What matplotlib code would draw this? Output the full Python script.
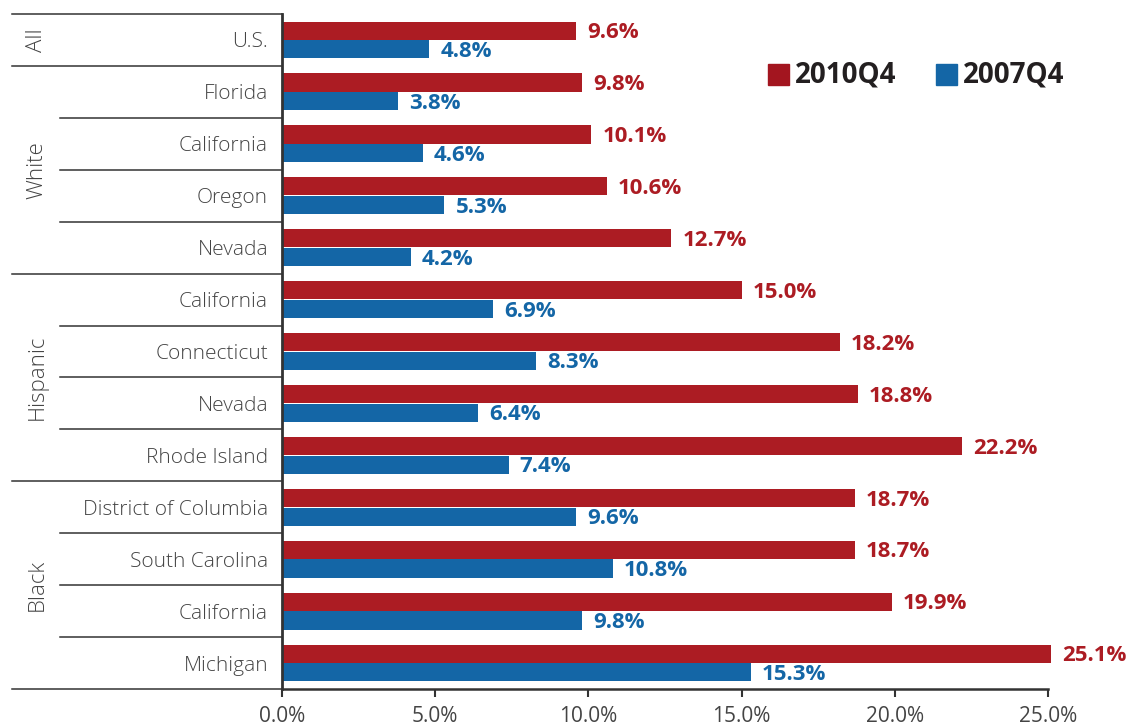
import matplotlib
matplotlib.use("Agg")
import matplotlib.pyplot as plt
from matplotlib.patches import Rectangle
from matplotlib.ticker import FuncFormatter

categories = ['U.S.', 'Florida', 'California', 'Oregon', 'Nevada',
              'California', 'Connecticut', 'Nevada', 'Rhode Island',
              'District of Columbia', 'South Carolina', 'California', 'Michigan']
groups = ['All', 'White', 'Hispanic', 'Black']
group_sizes = [1, 4, 4, 4]
values_2010 = [9.6, 9.8, 10.1, 10.6, 12.7, 15.0, 18.2, 18.8, 22.2, 18.7, 18.7, 19.9, 25.1]
values_2007 = [4.8, 3.8, 4.6, 5.3, 4.2, 6.9, 8.3, 6.4, 7.4, 9.6, 10.8, 9.8, 15.3]
series_names = ['2010Q4', '2007Q4']
xticks = [0, 5, 10, 15, 20, 25]

RED = '#AC1C23'
BLUE = '#1466A6'
DARK = '#333333'
FONT = ['Open Sans', 'DejaVu Sans']

plt.rcParams['font.family'] = FONT

W, H = 1131, 726
fig = plt.figure(figsize=(W / 100, H / 100), dpi=100)
x0, x1, ytop, ybot = 282, 1048, 14, 689
ax = fig.add_axes([x0 / W, 1 - ybot / H, (x1 - x0) / W, (ybot - ytop) / H])

n = len(categories)
pos = list(range(n))
bh = 0.35
off = 0.18
ax.barh([p - off for p in pos], values_2010, height=bh, color=RED, clip_on=False)
ax.barh([p + off for p in pos], values_2007, height=bh, color=BLUE, clip_on=False)

for p, v in zip(pos, values_2010):
    ax.annotate(f'{v:.1f}%', (v, p - off), xytext=(8, -1.5), textcoords='offset points',
                ha='left', va='center', color=RED, fontsize=16, fontweight='bold',
                annotation_clip=False)
for p, v in zip(pos, values_2007):
    ax.annotate(f'{v:.1f}%', (v, p + off), xytext=(8, -1.5), textcoords='offset points',
                ha='left', va='center', color=BLUE, fontsize=16, fontweight='bold',
                annotation_clip=False)

ax.set_xlim(0, 25)
ax.set_ylim(n - 0.5, -0.5)
ax.set_xticks(xticks)
ax.xaxis.set_major_formatter(FuncFormatter(lambda v, _: f'{v:.1f}%'))
ax.tick_params(axis='x', direction='out', length=6, width=1.5, color=DARK,
               labelsize=15, labelcolor='#444444', pad=6)
ax.set_yticks(pos)
ax.set_yticklabels(categories, fontsize=15, color='#444444', fontweight='light',
                   va='center_baseline')
ax.tick_params(axis='y', length=0, pad=10)

for s in ['top', 'right']:
    ax.spines[s].set_visible(False)
ax.spines['left'].set_linewidth(2)
ax.spines['left'].set_color(DARK)
ax.spines['bottom'].set_linewidth(1.8)
ax.spines['bottom'].set_color(DARK)

# separator lines
trans = ax.get_yaxis_transform()
xa_far = (12 - x0) / (x1 - x0)
xa_near = (60 - x0) / (x1 - x0)
start = 0
for g, size in zip(groups, group_sizes):
    end = start + size
    for k in range(start + 1, end):
        ax.plot([xa_near, 0], [k - 0.5, k - 0.5], transform=trans, color=DARK,
                lw=1.1, clip_on=False)
    ax.plot([xa_far, 0], [end - 0.5, end - 0.5], transform=trans, color=DARK,
            lw=1.1, clip_on=False)
    center = (start + end - 1) / 2
    ax.text((37 - x0) / (x1 - x0), center, g, transform=trans, rotation=90,
            ha='center', va='center', fontsize=16, color='#444444', fontweight='light')
    start = end
ax.plot([xa_far, 0], [-0.5, -0.5], transform=trans, color=DARK, lw=1.1, clip_on=False)

# legend
def add_leg(px, color, label):
    fig.patches.append(Rectangle((px / W, 1 - 85 / H), 21 / W, 21 / H,
                                 transform=fig.transFigure, color=color))
    fig.text((px + 27) / W, 1 - 75 / H, label, ha='left', va='center',
             fontsize=20, fontweight='bold', color='#231F20')

add_leg(768, '#A3151F', series_names[0])
add_leg(936, '#1466A6', series_names[1])

fig.savefig('out.png', dpi=100)
